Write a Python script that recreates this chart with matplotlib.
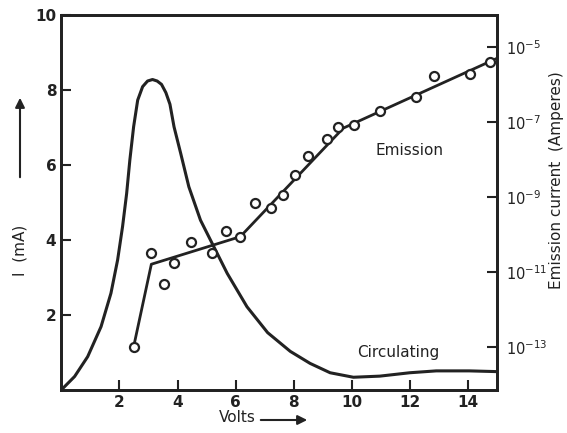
import matplotlib.pyplot as plt
import numpy as np

# circulating current (left axis, mA)
circ_v = [0, 0.46, 0.91, 1.37, 1.71, 1.94, 2.11, 2.25, 2.36, 2.49, 2.63,
          2.8, 2.97, 3.14, 3.3, 3.45, 3.6, 3.74, 3.88, 4.11, 4.39, 4.79,
          5.25, 5.71, 6.39, 7.1, 7.88, 8.56, 9.25, 10.05, 10.96, 11.99,
          12.9, 14.04, 15.0]
circ_ma = [0, 0.36, 0.89, 1.69, 2.58, 3.47, 4.36, 5.24, 6.13, 7.02, 7.73,
           8.09, 8.24, 8.28, 8.24, 8.15, 7.93, 7.62, 7.02, 6.31, 5.42, 4.53,
           3.82, 3.11, 2.22, 1.53, 1.03, 0.71, 0.46, 0.34, 0.37, 0.46,
           0.51, 0.51, 0.49]

# emission current measurements (right axis, amperes)
emis_v = [2.49, 3.08, 3.54, 3.88, 4.47, 5.19, 5.67, 6.16, 6.68, 7.21, 7.63,
          8.05, 8.5, 9.13, 9.53, 10.07, 10.96, 12.21, 12.84, 14.06, 14.76]
emis_a = [1.0e-13, 3.2e-11, 4.8e-12, 1.7e-11, 6.3e-11, 3.2e-11, 1.26e-10,
          8.7e-11, 6.9e-10, 5.2e-10, 1.12e-9, 3.8e-9, 1.26e-8, 3.6e-8,
          7.1e-8, 8.5e-8, 2.0e-7, 4.5e-7, 1.66e-6, 1.9e-6, 3.9e-6]

# fitted broken line through the emission points
fit_v = [2.49, 3.1, 6.16, 9.7, 15.0]
fit_a = [1.0e-13, 1.6e-11, 8.7e-11, 6.8e-8, 5.0e-6]

fig = plt.figure(figsize=(5.67, 4.33), dpi=100)
ax = fig.add_axes([0.108, 0.0993, 0.769, 0.866])

ax.plot(circ_v, circ_ma, color='#222222', lw=2.2, solid_joinstyle='round')
ax.set_xlim(0, 15)
ax.set_ylim(0, 10)
ax.set_xticks([2, 4, 6, 8, 10, 12, 14])
ax.set_yticks([2, 4, 6, 8, 10])
ax.tick_params(direction='in', length=7, width=1.5, labelsize=11,
               color='#222222', labelcolor='#222222')
for lbl in ax.get_xticklabels() + ax.get_yticklabels():
    lbl.set_fontweight('bold')
for s in ax.spines.values():
    s.set_linewidth(2)
    s.set_color('#222222')

ax2 = ax.twinx()
ax2.set_yscale('log')
ax2.set_ylim(10**-14.15, 10**-4.15)
ax2.plot(fit_v, fit_a, color='#222222', lw=2)
ax2.plot(emis_v, emis_a, 'o', mfc='white', mec='#222222', ms=6.5, mew=1.6)
ax2.set_yticks([1e-13, 1e-11, 1e-9, 1e-7, 1e-5])
ax2.minorticks_off()
ax2.set_yticklabels([r'$\mathregular{10^{-13}}$', r'$\mathregular{10^{-11}}$',
                     r'$\mathregular{10^{-9}}$', r'$\mathregular{10^{-7}}$',
                     r'$\mathregular{10^{-5}}$'])
ax2.tick_params(direction='in', length=7, width=1.5, labelsize=10.5,
                color='#222222', labelcolor='#222222', pad=6)
for s in ax2.spines.values():
    s.set_linewidth(2)
    s.set_color('#222222')

ax.text(11.99, 6.4, 'Emission', fontsize=11, ha='center', va='center',
        color='#222222')
ax.text(11.58, 1.01, 'Circulating', fontsize=11, ha='center', va='center',
        color='#222222')

# axis labels with arrows, as in the original figure
fig.text(20 / 567, 1 - 250 / 433, 'I  (mA)', rotation=90, fontsize=11,
         ha='center', va='center', color='#222222')
ax.annotate('', xy=(20 / 567, 1 - 95 / 433), xytext=(20 / 567, 1 - 180 / 433),
            xycoords='figure fraction',
            arrowprops=dict(arrowstyle='-|>', color='#222222', lw=1.5,
                            mutation_scale=14))
fig.text(237 / 567, 1 - 418 / 433, 'Volts', fontsize=11, ha='center',
         va='center', color='#222222')
ax.annotate('', xy=(310 / 567, 1 - 420 / 433), xytext=(258 / 567, 1 - 420 / 433),
            xycoords='figure fraction',
            arrowprops=dict(arrowstyle='-|>', color='#222222', lw=1.5,
                            mutation_scale=14))
fig.text(556 / 567, 1 - 180 / 433, 'Emission current  (Amperes)', rotation=90,
         fontsize=11, ha='center', va='center', color='#222222')

fig.savefig('out.png', dpi=100)
